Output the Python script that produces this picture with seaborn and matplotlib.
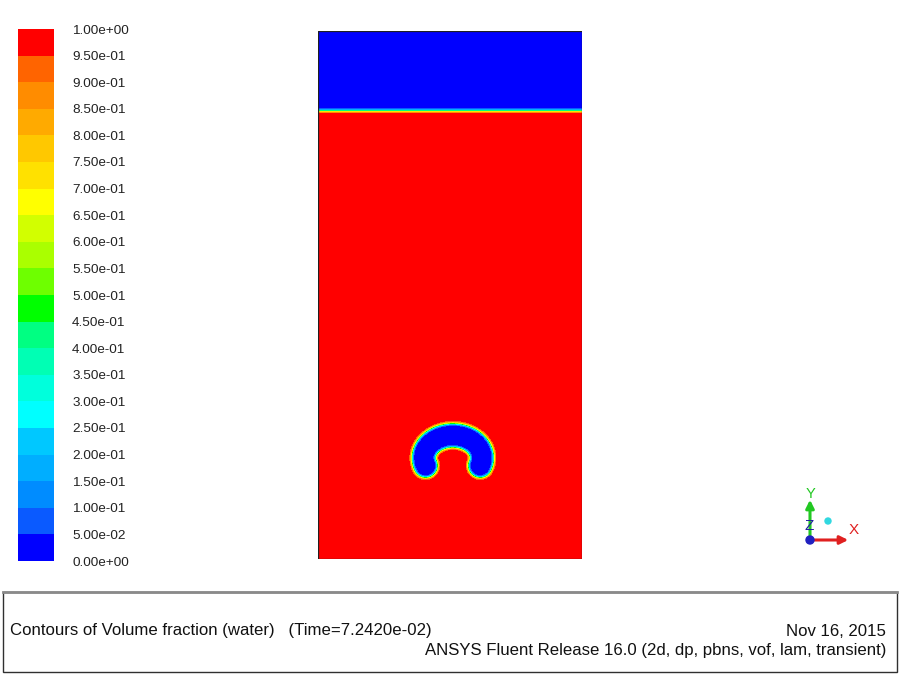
import numpy as np
import matplotlib
matplotlib.use("Agg")
import matplotlib.pyplot as plt
from matplotlib.colors import ListedColormap, BoundaryNorm
from matplotlib.patches import Rectangle, Circle
import seaborn as sns

# --- legend: Fluent colour bands, from 0.00 up to 1.00 ---
levels = [0.00, 0.05, 0.10, 0.15, 0.20, 0.25, 0.30, 0.35, 0.40, 0.45, 0.50,
          0.55, 0.60, 0.65, 0.70, 0.75, 0.80, 0.85, 0.90, 0.95, 1.00]
band_colors = ["#0000ff", "#0a5aff", "#008cff", "#00aeff", "#00c8ff",
               "#00ffff", "#00ffdc", "#00ffb4", "#00ff82", "#00ff00",
               "#6eff00", "#aaff00", "#d2ff00", "#ffff00", "#ffe100",
               "#ffc800", "#ffaa00", "#ff8c00", "#ff6400", "#ff0000"]

# --- geometry (domain 1 wide x 2 high) ---
domain_w, domain_h = 1.0, 2.0
nx, ny = 264, 528
free_surface_y = 1.698          # water below, air above
bubble_cx, bubble_cy = 0.511, 0.383
bubble_rx, bubble_ry = 0.110, 0.085   # centre-line of the skirted bubble
bubble_half_thick = 0.0455
bubble_arc_deg = 110            # arc extent each side of the top
interface_eps = 0.0065          # smeared VOF interface

title_left = "Contours of Volume fraction (water)   (Time=7.2420e-02)"
title_date = "Nov 16, 2015"
title_solver = "ANSYS Fluent Release 16.0 (2d, dp, pbns, vof, lam, transient)"

# 1. Build the volume-fraction field
xs = (np.arange(nx) + 0.5) / nx * domain_w
ys = domain_h - (np.arange(ny) + 0.5) / ny * domain_h   # row 0 at top
X, Y = np.meshgrid(xs, ys)

d_surf = free_surface_y - Y

th = np.radians(np.linspace(-bubble_arc_deg, bubble_arc_deg, 300))
arc_x = bubble_cx + bubble_rx * np.sin(th)
arc_y = bubble_cy + bubble_ry * np.cos(th)
d_bub = np.ones(X.shape)
win = (np.abs(X - bubble_cx) < 0.2) & (np.abs(Y - bubble_cy) < 0.15)
px, py = X[win], Y[win]
dist = np.sqrt((px[:, None] - arc_x) ** 2 + (py[:, None] - arc_y) ** 2).min(axis=1)
d_bub[win] = dist - bubble_half_thick

alpha = 0.5 * (1 + np.tanh(np.minimum(d_surf, d_bub) / interface_eps))

cmap = ListedColormap(band_colors)
norm = BoundaryNorm(levels, cmap.N)

# --- PLOTTING ---
W, H = 900, 675
fig = plt.figure(figsize=(9, 6.75), dpi=100)
fig.patch.set_facecolor("white")


def px_axes(x0, y0, x1, y1):
    return fig.add_axes([x0 / W, 1 - y1 / H, (x1 - x0) / W, (y1 - y0) / H])


# Contour domain
ax = px_axes(318, 31, 582, 559)
sns.heatmap(alpha, cmap=cmap, norm=norm, cbar=False, ax=ax,
            xticklabels=False, yticklabels=False, rasterized=True)
ax.add_patch(Rectangle((0, 0), 1, 1, transform=ax.transAxes, fill=False,
                       edgecolor="#202020", lw=0.9, zorder=5))

# Colour legend
cax = px_axes(18, 29, 54, 561)
bands = np.array([(a + b) / 2 for a, b in zip(levels[:-1], levels[1:])])[::-1]
sns.heatmap(bands.reshape(-1, 1), cmap=cmap, norm=norm, cbar=False, ax=cax,
            xticklabels=False, yticklabels=False)
cax.yaxis.tick_right()
cax.set_yticks(np.arange(len(levels)))
cax.set_yticklabels([f"{v:.2e}" for v in levels[::-1]], rotation=0,
                    fontsize=9.7, color="#222222", family="Liberation Sans")
cax.tick_params(axis="y", length=0, pad=13)

# Overlay in pixel coordinates for the triad and the title box
ov = fig.add_axes([0, 0, 1, 1], facecolor="none")
ov.set_xlim(0, W)
ov.set_ylim(H, 0)
ov.axis("off")

# Axis triad
ox, oy = 810, 540
ov.annotate("", xy=(ox, 497), xytext=(ox, oy),
            arrowprops=dict(arrowstyle="-|>", color="#22c822", lw=2.2, mutation_scale=12))
ov.annotate("", xy=(851, oy), xytext=(ox, oy),
            arrowprops=dict(arrowstyle="-|>", color="#e02020", lw=2.2, mutation_scale=12))
ov.add_patch(Circle((ox, oy), 4, color="#2020c0", zorder=6))
ov.add_patch(Circle((828, 521), 3, color="#30d8e0", zorder=6))
ov.text(ox, 494, "Y", color="#22c822", fontsize=10.5, ha="center", va="center",
        family="Liberation Sans")
ov.text(854, 530, "X", color="#e02020", fontsize=11, ha="center", va="center",
        family="Liberation Sans")
ov.text(809, 526, "Z", color="#2020a0", fontsize=11, ha="center", va="center",
        family="Liberation Sans")

# Title box
ov.add_patch(Rectangle((3, 592), 894, 80, fill=False, edgecolor="#303030", lw=1.0))
ov.plot([3, 897], [592, 592], color="#8a8a8a", lw=2.0)
ov.text(10, 631, title_left, fontsize=12.1, ha="left", va="center",
        color="#111111", family="Liberation Sans")
ov.text(886, 631, title_date, fontsize=12.1, ha="right", va="center",
        color="#111111", family="Liberation Sans")
ov.text(886, 651, title_solver, fontsize=12.1, ha="right", va="center",
        color="#111111", family="Liberation Sans")

fig.savefig("out.png", dpi=100, facecolor="white")
